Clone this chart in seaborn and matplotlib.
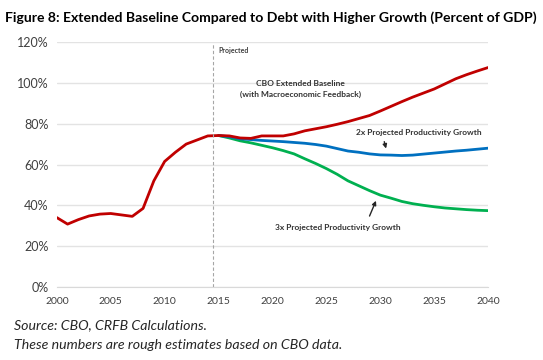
import pandas as pd
import seaborn as sns
import matplotlib.pyplot as plt

hist_years = list(range(2000, 2016))
baseline_hist = [34, 30.8, 33, 34.8, 35.7, 36, 35.3, 34.6, 38.5, 52, 61.5, 66, 70, 72, 74, 74.2]

proj_years = list(range(2015, 2041))
baseline = [74.2, 74, 73, 72.8, 74, 74, 74, 75, 76.5, 77.5, 78.5, 79.7, 81, 82.5, 84,
            86.2, 88.5, 90.8, 93, 95, 97, 99.5, 102, 104, 105.8, 107.5]
growth_2x = [74.2, 73.6, 72.6, 72.2, 71.8, 71.5, 71.2, 70.8, 70.4, 69.8, 69, 67.8, 66.6,
             66, 65.2, 64.7, 64.6, 64.4, 64.6, 65.1, 65.6, 66.1, 66.6, 67, 67.5, 68]
growth_3x = [74.2, 73, 71.6, 70.6, 69.4, 68.2, 66.8, 65.2, 62.8, 60.5, 58, 55.2, 52,
             49.6, 47.2, 45, 43.5, 41.9, 40.8, 40, 39.3, 38.7, 38.3, 37.9, 37.6, 37.4]

y_ticks = [0, 20, 40, 60, 80, 100, 120]
x_ticks = list(range(2000, 2041, 5))

sns.set_style("white")
plt.rcParams["font.family"] = ["Lato", "DejaVu Sans"]

fig = plt.figure(figsize=(5.43, 3.6), dpi=100)
ax = fig.add_axes([0.1046, 0.2028, 0.7944, 0.6805])

red, blue, green = "#C00000", "#0070C0", "#00B050"

# projections first so the red baseline sits on top
sns.lineplot(x=proj_years, y=growth_3x, color=green, linewidth=2, ax=ax)
sns.lineplot(x=proj_years, y=growth_2x, color=blue, linewidth=2, ax=ax)
sns.lineplot(x=hist_years + proj_years[1:], y=baseline_hist + baseline[1:],
             color=red, linewidth=2, ax=ax)

ax.set_xlim(2000, 2040)
ax.set_ylim(0, 120)
ax.set_yticks(y_ticks)
ax.set_yticklabels([f"{v}%" for v in y_ticks], fontsize=9, color="#404040")
ax.set_xticks(x_ticks)
ax.set_xticklabels([str(v) for v in x_ticks], fontsize=7.5, color="#404040")
ax.yaxis.grid(True, color="#e3e3e3", linewidth=1)
ax.tick_params(axis="y", length=0, pad=6)
ax.tick_params(axis="x", length=3, color="#d9d9d9", direction="out", pad=4)
for side in ["top", "right", "left"]:
    ax.spines[side].set_visible(False)
ax.spines["bottom"].set_color("#d9d9d9")
ax.set_xlabel("")
ax.set_ylabel("")

ax.axvline(2014.5, ymax=0.99, color="#a6a6a6", linestyle=(0, (3, 2)), linewidth=0.8)
ax.text(2015.0, 114.5, "Projected", fontsize=5, fontweight="bold", color="#404040")

ax.text(2022.6, 97, "CBO Extended Baseline\n(with Macroeconomic Feedback)",
        fontsize=6, fontweight="bold", color="#333333", ha="center", va="center",
        linespacing=1.5)
ax.text(2033.6, 75.5, "2x Projected Productivity Growth", fontsize=6,
        fontweight="bold", color="#333333", ha="center", va="center")
ax.annotate("", xy=(2030.6, 66.5), xytext=(2030.3, 72.5),
            arrowprops=dict(arrowstyle="-|>", color="#262626", lw=1, mutation_scale=6))
ax.text(2026.1, 29, "3x Projected Productivity Growth", fontsize=6,
        fontweight="bold", color="#333333", ha="center", va="center")
ax.annotate("", xy=(2029.7, 43.5), xytext=(2028.9, 33.5),
            arrowprops=dict(arrowstyle="-|>", color="#262626", lw=1, mutation_scale=6))

fig.text(0.009, 0.95, "Figure 8: Extended Baseline Compared to Debt with Higher Growth (Percent of GDP)",
         fontsize=10.1, fontweight="bold", color="black", va="center")
fig.text(0.026, 0.097, "Source: CBO, CRFB Calculations.", fontsize=10.2, style="italic", va="center")
fig.text(0.026, 0.042, "These numbers are rough estimates based on CBO data.", fontsize=10.2,
         style="italic", va="center")

fig.savefig("out.png", dpi=100)
plt.close(fig)
